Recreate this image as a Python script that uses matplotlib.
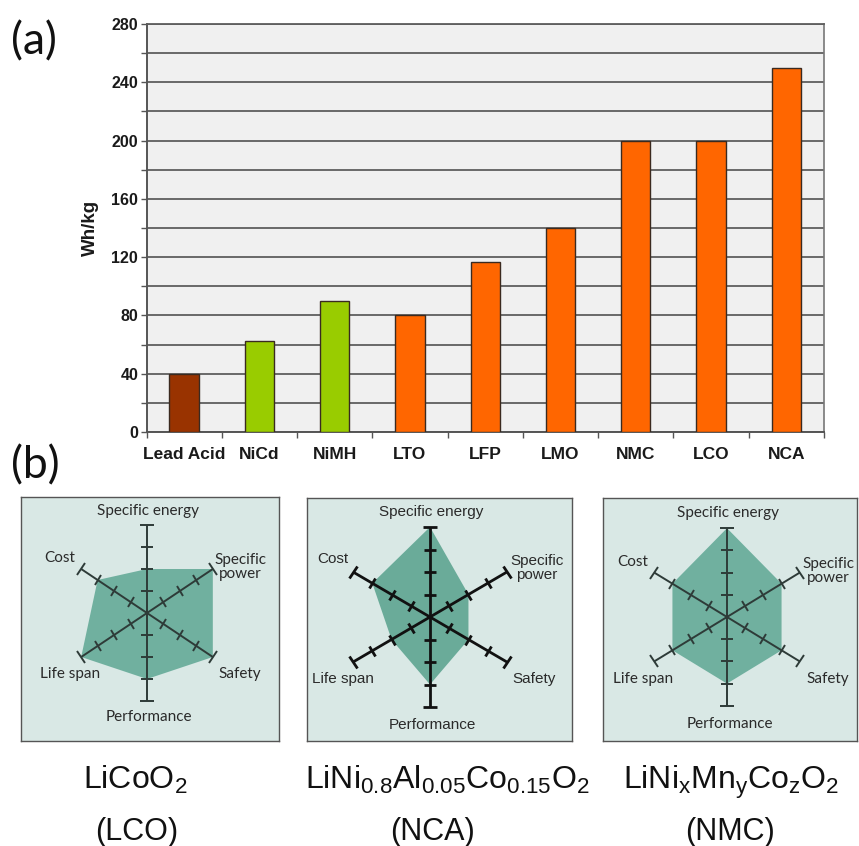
import numpy as np
import matplotlib
matplotlib.use("Agg")
import matplotlib.pyplot as plt
from matplotlib.markers import MarkerStyle
from matplotlib.transforms import Affine2D

# ---------------- data ----------------
chemistries = ["Lead Acid", "NiCd", "NiMH", "LTO", "LFP", "LMO", "NMC", "LCO", "NCA"]
energy_whkg = [40, 62.5, 90, 80, 117, 140, 200, 200, 250]
bar_colors = ["#993300", "#99cc00", "#99cc00", "#ff6600", "#ff6600",
              "#ff6600", "#ff6600", "#ff6600", "#ff6600"]
y_major = [0, 40, 80, 120, 160, 200, 240, 280]
y_minor = [20, 60, 100, 140, 180, 220, 260]

radar_axes = ["Specific energy", "Specific\npower", "Safety",
              "Performance", "Life span", "Cost"]
radar_angles_deg = [90, 30, -30, -90, -150, 150]
lco_scores = [2, 4, 4, 3, 4, 3]
nca_scores = [4, 2, 2, 3, 2, 3]
nmc_scores = [4, 3, 3, 3, 3, 3]
formulas = [r"LiCoO$_2$", r"LiNi$_{0.8}$Al$_{0.05}$Co$_{0.15}$O$_2$",
            r"LiNi$_x$Mn$_y$Co$_z$O$_2$"]
abbrevs = ["(LCO)", "(NCA)", "(NMC)"]

W, H = 859, 846
fig = plt.figure(figsize=(W / 100, H / 100), dpi=100)
plt.rcParams["mathtext.fontset"] = "custom"
plt.rcParams["mathtext.rm"] = "Liberation Sans"
plt.rcParams["mathtext.it"] = "Liberation Sans"


def px_box(x0, y0, x1, y1):
    return [x0 / W, 1 - y1 / H, (x1 - x0) / W, (y1 - y0) / H]


# ---------------- (a) bar chart ----------------
ax = fig.add_axes(px_box(146.5, 24, 824, 432))
ax.set_facecolor("#f0f0f0")
x = np.arange(len(chemistries))
ax.bar(x, energy_whkg, width=0.39, color=bar_colors, edgecolor="#3a2a20",
       linewidth=1.0, zorder=3)
ax.set_xlim(-0.5, len(chemistries) - 0.5)
ax.set_ylim(0, 280)
ax.set_yticks(y_major)
ax.set_yticks(y_minor, minor=True)
ax.grid(True, which="both", axis="y", color="#5e5e5e", linewidth=1.3, zorder=1)
ax.set_axisbelow(True)
ax.tick_params(axis="y", which="both", direction="out", length=4, width=1,
               color="#555555", pad=2, labelsize=11.5)
ax.set_xticks(x)
ax.set_xticklabels(chemistries)
ax.set_xticks(np.arange(-0.5, len(chemistries), 1.0), minor=True)
ax.tick_params(axis="x", which="major", length=0, pad=11, labelsize=12.5)
ax.tick_params(axis="x", which="minor", direction="out", length=4, width=1,
               color="#555555")
for lab in ax.get_xticklabels() + ax.get_yticklabels():
    lab.set_fontweight("bold")
    lab.set_fontfamily("Liberation Sans")
    lab.set_color("#1a1a1a")
for s in ["left", "bottom"]:
    ax.spines[s].set_color("#555555")
    ax.spines[s].set_linewidth(1.4)
ax.spines["right"].set_color("#777777")
ax.spines["right"].set_linewidth(1.2)
ax.spines["top"].set_color("#5e5e5e")
ax.spines["top"].set_linewidth(1.3)
ax.set_ylabel("Wh/kg", fontsize=13.5, fontweight="bold",
              fontfamily="Liberation Sans", color="#1a1a1a")
ax.yaxis.label.set_va("center")
ax.yaxis.set_label_coords(-0.083, 0.5)

fig.text(11 / W, 1 - 42 / H, "(a)", fontsize=32, family="Lato",
         ha="left", va="center", color="#111111")
fig.text(11 / W, 1 - 466 / H, "(b)", fontsize=32, family="Lato",
         ha="left", va="center", color="#111111")


# ---------------- (b) radar panels ----------------
def radar_panel(box, center, sx, sy, scores, labels_pos, family, fsize,
                fill, lw, tick_ms, cap_ms, line_color):
    x0, y0, x1, y1 = box
    cx, cy = center
    rax = fig.add_axes(px_box(x0, y0, x1, y1))
    rax.set_facecolor("#d9e8e5")
    rax.set_xlim((x0 - cx) / sx, (x1 - cx) / sx)
    rax.set_ylim(-(y1 - cy) / sy, (cy - y0) / sy)
    rax.set_xticks([])
    rax.set_yticks([])
    for s in rax.spines.values():
        s.set_color("#555555")
        s.set_linewidth(1.0)
    ang = np.radians(radar_angles_deg)
    ux, uy = np.cos(ang), np.sin(ang)
    vals = np.array(scores, dtype=float)
    rax.fill(vals * ux, vals * uy, color=fill, zorder=1, linewidth=0)
    # axis lines
    for i in range(3):
        rax.plot([ux[i] * 4, ux[i + 3] * 4], [uy[i] * 4, uy[i + 3] * 4],
                 color=line_color, lw=lw, zorder=2, solid_capstyle="butt")
    # ticks and caps
    for i in range(6):
        p0 = rax.transData.transform((0, 0))
        p1 = rax.transData.transform((ux[i], uy[i]))
        dang = np.degrees(np.arctan2(p1[1] - p0[1], p1[0] - p0[0]))
        m = MarkerStyle("_", transform=Affine2D().rotate_deg(dang - 90))
        r = np.array([1, 2, 3])
        rax.plot(r * ux[i], r * uy[i], ls="none", marker=m, ms=tick_ms,
                 mew=lw, mec=line_color, zorder=3)
        rax.plot([4 * ux[i]], [4 * uy[i]], ls="none", marker=m, ms=cap_ms,
                 mew=lw, mec=line_color, zorder=3)
    for lab, (lx, ly) in zip(radar_axes, labels_pos):
        rax.text(lx, ly, lab, ha="center", va="center", family=family,
                 fontsize=fsize, color="#2a2a2a", linespacing=0.95)
    return rax


radar_panel((21, 497, 279, 741), (147, 613), 19.0, 22.0, lco_scores,
            [(0.05, 4.64), (4.9, 2.1), (4.9, -2.77), (0.1, -4.73),
             (-4.05, -2.77), (-4.58, 2.5)],
            "Lato", 11, "#70b09f", 1.4, 8, 10, "#2e3b38")
radar_panel((307, 498, 572, 741), (430, 617), 22.2, 22.5, nca_scores,
            [(0.05, 4.67), (4.8, 2.18), (4.7, -2.76), (0.1, -4.8),
             (-3.9, -2.76), (-4.37, 2.58)],
            "Liberation Sans", 11, "#6aab99", 2.0, 8, 10, "#111111")
radar_panel((603, 498, 857, 741), (727, 617), 21.0, 22.2, nmc_scores,
            [(0.05, 4.68), (4.81, 2.07), (4.81, -2.79), (0.14, -4.82),
             (-4.0, -2.79), (-4.48, 2.48)],
            "Lato", 11, "#70b09f", 1.4, 8, 10, "#2e3b38")

# ---------------- formula captions ----------------
form_x = [135, 447, 731]
abbr_x = [137, 433, 730]
for f, a, fx, axx in zip(formulas, abbrevs, form_x, abbr_x):
    fig.text(fx / W, 1 - 789 / H, f, fontsize=23, family="Liberation Sans",
             ha="center", va="baseline", color="#111111")
    fig.text(axx / W, 1 - 840 / H, a, fontsize=22, family="Liberation Sans",
             ha="center", va="baseline", color="#111111")

fig.savefig("out.png", dpi=100)
